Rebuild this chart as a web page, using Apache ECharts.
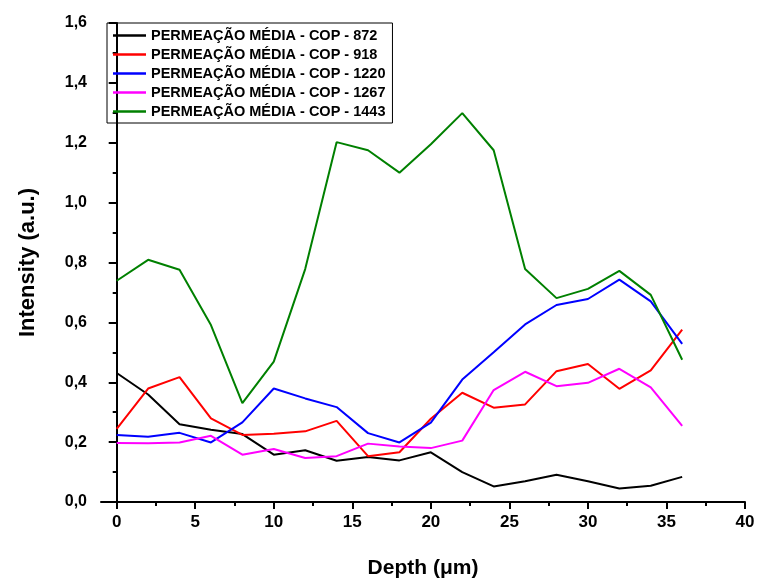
<!DOCTYPE html>
<html>
<head>
<meta charset="utf-8">
<script src="https://cdn.jsdelivr.net/npm/echarts@6/dist/echarts.min.js"></script>
<style>html,body{margin:0;padding:0;background:#fff}#c{width:761px;height:584px}</style>
</head>
<body>
<div id="c"></div>
<script>
const depth = [0,2,4,6,8,10,12,14,16,18,20,22,24,26,28,30,32,34,36];
const cop872  = [0.431,0.359,0.260,0.241,0.227,0.158,0.173,0.138,0.150,0.139,0.166,0.100,0.052,0.069,0.091,0.069,0.045,0.054,0.084];
const cop918  = [0.244,0.379,0.417,0.279,0.224,0.228,0.236,0.271,0.153,0.166,0.278,0.365,0.315,0.326,0.437,0.461,0.378,0.440,0.576];
const cop1220 = [0.224,0.218,0.231,0.199,0.266,0.379,0.346,0.317,0.230,0.199,0.265,0.409,0.500,0.593,0.658,0.678,0.743,0.670,0.528];
const cop1267 = [0.197,0.196,0.199,0.221,0.158,0.177,0.147,0.153,0.195,0.185,0.180,0.205,0.374,0.435,0.387,0.398,0.445,0.383,0.254];
const cop1443 = [0.739,0.809,0.776,0.591,0.330,0.469,0.778,1.202,1.175,1.100,1.195,1.299,1.175,0.778,0.681,0.712,0.772,0.692,0.475];
const seriesNames = ['PERMEAÇÃO MÉDIA - COP - 872','PERMEAÇÃO MÉDIA - COP - 918','PERMEAÇÃO MÉDIA - COP - 1220','PERMEAÇÃO MÉDIA - COP - 1267','PERMEAÇÃO MÉDIA - COP - 1443'];
const seriesValues = [cop872, cop918, cop1220, cop1267, cop1443];
const seriesColors = ['#000000','#ff0000','#0000ff','#ff00ff','#008000'];
const xMajorTicks = [0,5,10,15,20,25,30,35,40];
const xMinorTicks = [2.5,7.5,12.5,17.5,22.5,27.5,32.5,37.5];

const FONT = '"Liberation Sans", Arial, sans-serif';
const chart = echarts.init(document.getElementById('c'), null, {renderer:'canvas'});
chart.setOption({
  animation: false,
  backgroundColor: '#ffffff',
  grid: {left: 101, right: 16, top: 23, bottom: 77, containLabel: false},
  legend: {
    orient: 'vertical', left: 107, top: 23,
    padding: [5, 7, 4, 6],
    borderColor: '#000', borderWidth: 1,
    icon: 'rect',
    itemWidth: 33, itemHeight: 2.5, itemGap: 4,
    textStyle: {fontFamily: FONT, fontWeight: 'bold', fontSize: 14.5, color: '#000'},
    data: seriesNames
  },
  xAxis: [{
    type: 'value', min: -1, max: 40, position: 'bottom',
    axisLine: {onZero: false, lineStyle: {color: '#000', width: 2}},
    axisTick: {show: true, inside: false, length: 7, customValues: xMajorTicks, lineStyle: {color: '#000', width: 2}},
    axisLabel: {customValues: xMajorTicks, margin: 12, color: '#000', fontFamily: FONT, fontWeight: 'bold', fontSize: 17},
    splitLine: {show: false},
    name: 'Depth (\u03bcm)', nameLocation: 'middle', nameGap: 56,
    nameTextStyle: {fontFamily: FONT, fontWeight: 'bold', fontSize: 21, color: '#000'}
  },{
    type: 'value', min: -1, max: 40, position: 'bottom',
    axisLine: {show: false, onZero: false},
    axisTick: {show: true, inside: false, length: 4, customValues: xMinorTicks, lineStyle: {color: '#000', width: 2}},
    axisLabel: {show: false},
    splitLine: {show: false}
  }],
  yAxis: {
    type: 'value', min: 0, max: 1.6, interval: 0.2,
    axisLine: {show: true, lineStyle: {color: '#000', width: 2}},
    axisTick: {show: true, inside: false, length: 8, lineStyle: {color: '#000', width: 2}},
    minorTick: {show: true, splitNumber: 2, length: 4, lineStyle: {color: '#000', width: 2}},
    axisLabel: {margin: 14, color: '#000', fontFamily: FONT, fontWeight: 'bold', fontSize: 16,
      formatter: v => v.toFixed(1).replace('.', ',')},
    splitLine: {show: false},
    name: 'Intensity (a.u.)', nameLocation: 'middle', nameGap: 62,
    nameTextStyle: {fontFamily: FONT, fontWeight: 'bold', fontSize: 22, color: '#000'}
  },
  series: seriesNames.map((n, i) => ({
    name: n, type: 'line', xAxisIndex: 0, symbol: 'none', showSymbol: false,
    color: seriesColors[i],
    lineStyle: {color: seriesColors[i], width: 2},
    data: depth.map((d, j) => [d, seriesValues[i][j]])
  }))
});
</script>
</body>
</html>
